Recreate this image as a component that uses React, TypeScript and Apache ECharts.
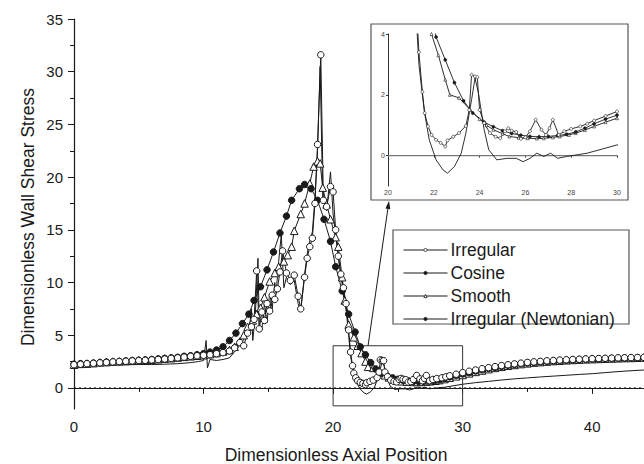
import React, { useEffect, useRef } from "react";
import * as echarts from "echarts";

// ---------- data ----------
const irregular: [number, number][] = [
  [0, 2.2], [0.5, 2.25], [1, 2.3], [1.5, 2.33], [2, 2.38], [2.5, 2.42], [3, 2.47], [3.5, 2.5], [4, 2.53], [4.5, 2.56],
  [5, 2.6], [5.5, 2.62], [6, 2.66], [6.5, 2.7], [7, 2.74], [7.5, 2.8], [8, 2.85], [8.5, 2.92], [9, 3.0], [9.5, 3.05],
  [10, 3.1], [10.5, 3.15], [11, 3.25], [11.5, 3.35], [12, 3.5], [12.4, 3.8], [12.8, 4.3], [13.1, 4.0], [13.4, 5.2], [13.7, 5.8],
  [13.9, 6.5], [14.1, 11.1], [14.3, 5.6], [14.5, 7.2], [14.7, 6.4], [14.9, 8.0], [15.1, 7.3], [15.3, 8.8], [15.5, 8.4], [15.7, 9.4],
  [15.9, 11.0], [16.1, 13.0], [16.4, 10.9], [16.7, 10.2], [17.0, 10.7], [17.3, 8.7], [17.5, 7.5], [17.8, 10.5], [18.0, 12.3], [18.2, 13.4],
  [18.4, 14.2], [18.6, 17.5], [18.8, 23.1], [19.05, 31.6], [19.25, 17.8], [19.5, 17.2], [19.8, 19.1], [20.0, 18.6], [20.2, 15.0], [20.4, 12.5],
  [20.6, 10.8], [20.8, 9.5], [21.0, 8.0], [21.2, 5.5], [21.35, 3.4], [21.5, 2.1], [21.6, 1.4], [21.75, 0.96], [21.9, 0.68], [22.1, 0.52],
  [22.3, 0.42], [22.5, 0.3], [22.6, 0.5], [22.85, 0.62], [23.1, 0.74], [23.4, 0.98], [23.55, 1.5], [23.65, 2.66], [23.8, 2.6], [23.9, 2.58],
  [24.0, 1.5], [24.2, 1.07], [24.45, 0.74], [24.7, 0.62], [24.9, 0.57], [25.1, 0.8], [25.25, 0.9], [25.4, 0.82], [25.6, 0.78], [25.8, 0.55],
  [26.0, 0.6], [26.2, 0.8], [26.45, 1.18], [26.7, 0.85], [26.9, 0.68], [27.05, 0.9], [27.2, 1.18], [27.45, 0.68], [27.7, 0.8], [28.0, 0.88],
  [28.4, 0.96], [28.7, 1.05], [29.0, 1.15], [29.5, 1.3], [30, 1.45], [30.5, 1.58], [31, 1.7], [31.5, 1.82], [32, 1.92], [32.5, 2.02],
  [33, 2.12], [33.5, 2.2], [34, 2.28], [34.5, 2.35], [35, 2.42], [35.5, 2.47], [36, 2.52], [36.5, 2.57], [37, 2.6], [37.5, 2.64],
  [38, 2.67], [38.5, 2.7], [39, 2.72], [39.5, 2.75], [40, 2.77], [40.5, 2.79], [41, 2.81], [41.5, 2.83], [42, 2.85], [42.5, 2.86],
  [43, 2.88], [43.5, 2.89], [44, 2.9],
];

const cosine: [number, number][] = [
  [0, 2.25], [0.5, 2.3], [1, 2.32], [1.5, 2.35], [2, 2.4], [2.5, 2.45], [3, 2.48], [3.5, 2.5], [4, 2.55], [4.5, 2.6],
  [5, 2.62], [5.5, 2.65], [6, 2.7], [6.5, 2.75], [7, 2.8], [7.5, 2.85], [8, 2.9], [8.5, 3.0], [9, 3.05], [9.5, 3.15],
  [10, 3.25], [10.5, 3.4], [11, 3.6], [11.5, 3.9], [12, 4.5], [12.5, 5.2], [13, 6.1], [13.5, 7.0], [13.9, 8.3], [14.4, 9.6],
  [14.9, 11.2], [15.4, 12.9], [15.9, 14.7], [16.4, 16.3], [16.8, 17.8], [17.4, 18.9], [17.8, 19.3], [18.3, 18.9], [18.8, 17.8], [19.3, 16.0],
  [19.8, 13.9], [20.2, 11.5], [20.7, 9.2], [21.2, 7.0], [21.7, 5.3], [22.1, 3.9], [22.5, 3.15], [22.9, 2.4], [23.3, 1.8], [23.7, 1.4],
  [24.2, 1.1], [24.6, 0.95], [25.0, 0.82], [25.4, 0.73], [25.8, 0.67], [26.2, 0.63], [26.6, 0.62], [27.0, 0.63], [27.4, 0.66], [27.8, 0.7],
  [28.2, 0.78], [28.6, 0.9], [29.0, 1.05], [29.5, 1.2], [30, 1.33], [30.5, 1.45], [31, 1.6], [31.5, 1.72], [32, 1.85], [32.5, 1.95],
  [33, 2.05], [33.5, 2.15], [34, 2.22], [34.5, 2.3], [35, 2.36], [35.5, 2.42], [36, 2.47], [36.5, 2.52], [37, 2.56], [37.5, 2.6],
  [38, 2.63], [38.5, 2.66], [39, 2.69], [39.5, 2.72], [40, 2.74], [40.5, 2.76], [41, 2.78], [41.5, 2.8], [42, 2.82], [42.5, 2.83],
  [43, 2.85], [43.5, 2.86], [44, 2.87],
];

const smooth: [number, number][] = [
  [0, 2.2], [0.5, 2.28], [1, 2.3], [1.5, 2.35], [2, 2.42], [2.5, 2.45], [3, 2.5], [3.5, 2.52], [4, 2.55], [4.5, 2.58],
  [5, 2.62], [5.5, 2.65], [6, 2.68], [6.5, 2.72], [7, 2.78], [7.5, 2.82], [8, 2.88], [8.5, 2.95], [9, 3.0], [9.5, 3.05],
  [10, 3.1], [10.5, 3.2], [11, 3.3], [11.5, 3.45], [12, 3.6], [12.4, 3.9], [12.8, 4.4], [13.1, 5.0], [13.4, 5.8], [13.8, 6.4],
  [14.1, 7.0], [14.4, 7.6], [14.7, 8.6], [15.1, 10.1], [15.5, 10.9], [15.8, 11.5], [16.2, 12.0], [16.5, 12.6], [16.8, 13.4], [17.0, 14.9],
  [17.5, 16.5], [17.8, 17.5], [18.2, 19.4], [18.5, 21.0], [18.8, 21.5], [19.0, 21.3], [19.2, 19.0], [19.5, 17.4], [19.8, 16.0], [20.2, 14.3],
  [20.4, 13.4], [20.7, 10.5], [20.9, 8.3], [21.2, 6.0], [21.6, 4.8], [21.9, 4.0], [22.2, 3.3], [22.5, 2.5], [22.7, 2.0], [23.1, 1.9],
  [23.6, 1.5], [24.0, 1.2], [24.3, 1.0], [24.6, 0.85], [25.0, 0.72], [25.3, 0.63], [25.7, 0.59], [26.1, 0.57], [26.5, 0.56], [26.8, 0.57],
  [27.2, 0.6], [27.5, 0.63], [27.9, 0.68], [28.2, 0.74], [28.6, 0.84], [29, 0.96], [29.5, 1.1], [30, 1.23], [30.5, 1.38], [31, 1.52],
  [31.5, 1.65], [32, 1.78], [32.5, 1.9], [33, 2.0], [33.5, 2.1], [34, 2.18], [34.5, 2.26], [35, 2.33], [35.5, 2.4], [36, 2.45],
  [36.5, 2.5], [37, 2.55], [37.5, 2.58], [38, 2.62], [38.5, 2.65], [39, 2.68], [39.5, 2.71], [40, 2.73], [40.5, 2.75], [41, 2.77],
  [41.5, 2.79], [42, 2.81], [42.5, 2.83], [43, 2.84], [43.5, 2.86], [44, 2.88],
];

const newtonian: [number, number][] = [
  [0, 2.1], [1, 2.15], [2, 2.18], [3, 2.2], [4, 2.2], [5, 2.22], [6, 2.22], [7, 2.25], [8, 2.3], [9, 2.4],
  [9.6, 2.5], [10.0, 2.6], [10.2, 4.5], [10.3, 1.9], [10.5, 2.7], [11, 2.6], [11.5, 2.7], [12, 2.85], [12.5, 3.6], [12.9, 4.2],
  [13.2, 4.8], [13.5, 5.2], [13.7, 7.5], [13.8, 4.5], [14.0, 7.0], [14.2, 12.3], [14.3, 6.0], [14.5, 5.5], [14.7, 8.0], [14.9, 6.2],
  [15.1, 9.0], [15.3, 7.5], [15.5, 10.0], [15.6, 9.0], [15.8, 12.0], [16.0, 14.5], [16.2, 9.5], [16.4, 10.5], [16.7, 9.8], [17.0, 10.2],
  [17.3, 8.0], [17.5, 7.3], [17.8, 10.8], [18.1, 13.5], [18.4, 14.8], [18.6, 18.0], [18.8, 22.5], [19.0, 30.5], [19.2, 18.0], [19.5, 16.8],
  [19.8, 20.5], [20.0, 16.5], [20.2, 14.5], [20.5, 11.5], [20.8, 9.0], [21.0, 7.5], [21.2, 5.0], [21.35, 3.0], [21.46, 2.27], [21.6, 1.4],
  [21.8, 0.52], [22.1, -0.14], [22.4, -0.47], [22.6, -0.58], [22.9, -0.36], [23.2, 0.08], [23.4, 0.74], [23.65, 1.84], [23.8, 2.55], [23.95, 2.05],
  [24.2, 0.85], [24.4, 0.19], [24.75, -0.14], [25.2, -0.09], [25.6, -0.09], [25.9, -0.2], [26.2, -0.09], [26.5, 0.08], [26.8, -0.03], [27.1, 0.08],
  [27.4, -0.09], [27.8, -0.03], [28.7, 0.08], [30, 0.35], [31, 0.5], [32, 0.62], [33, 0.75], [34, 0.86], [35, 0.95], [36, 1.04],
  [37, 1.12], [38, 1.2], [39, 1.28], [40, 1.35], [41, 1.45], [42, 1.55], [43, 1.63], [44, 1.7],
];

const xLabelValues = [0, 10, 20, 30, 40];
const xMinorValues = [5, 15, 25, 35];
const yLabelValues = [0, 5, 10, 15, 20, 25, 30, 35];
const yMinorValues = [2.5, 7.5, 12.5, 17.5, 22.5, 27.5, 32.5];
const insetYLabelValues = [0, 2, 4];
const zoomBox: [number, number][] = [[20, 4], [30, 4], [30, -1.7], [20, -1.7], [20, 4]];
const mainZeroLine: [number, number][] = [[0, 0], [44, 0]];
const insetZeroLine: [number, number][] = [[20, 0], [30, 0]];

const NAMES = ["Irregular", "Cosine", "Smooth", "Irregular (Newtonian)"];

// ---------- styling ----------
const FONT = '"Liberation Sans", Arial, Helvetica, sans-serif';
const INK = "#1a1a1a";
const FRAME = "#555555";

function markerSeries(
  name: string,
  data: [number, number][],
  kind: "open" | "filled" | "tri" | "none",
  inset: boolean
): any {
  const bw = inset ? 0.6 : 1;
  const size = inset ? 3 : kind === "tri" ? 7.5 : 6.5;
  return {
    name,
    type: "line",
    xAxisIndex: inset ? 2 : 0,
    yAxisIndex: inset ? 2 : 0,
    data,
    clip: true,
    symbol: kind === "tri" ? "triangle" : kind === "none" ? "none" : "circle",
    symbolSize: size,
    showSymbol: kind !== "none",
    showAllSymbol: true,
    lineStyle: { color: INK, width: inset ? 0.9 : 1 },
    itemStyle: {
      color: kind === "filled" || kind === "none" ? INK : "#ffffff",
      borderColor: INK,
      borderWidth: bw,
    },
    emphasis: { disabled: true },
    silent: true,
    z: kind === "none" ? 2 : 3,
  };
}

function plain(data: [number, number][], axis: number, color: string, type: any, width: number): any {
  return {
    type: "line",
    xAxisIndex: axis,
    yAxisIndex: axis,
    data,
    symbol: "none",
    silent: true,
    lineStyle: { color, width, type },
    z: 1,
  };
}

export default function App() {
  const ref = useRef<HTMLDivElement>(null);

  useEffect(() => {
    if (!ref.current) return;
    const chart = echarts.init(ref.current, undefined, { renderer: "svg" });

    const axisLine = { show: true, lineStyle: { color: INK, width: 1.2 } };

    // arrow geometry (annotation)
    const tip = [389, 201];
    const start = [368, 346];
    const dx = tip[0] - start[0];
    const dy = tip[1] - start[1];
    const len = Math.hypot(dx, dy);
    const ux = dx / len, uy = dy / len;
    const bx = tip[0] - 8 * ux, by = tip[1] - 8 * uy;
    const nx = -uy, ny = ux;

    const option: any = {
      animation: false,
      textStyle: { fontFamily: FONT },
      grid: [
        { left: 74, top: 19, width: 572, height: 390 },
        { left: 388, top: 34, width: 229, height: 152 },
      ],
      xAxis: [
        {
          type: "value", gridIndex: 0, min: 0, max: 44,
          axisLine,
          axisTick: { show: true, length: 6, lineStyle: { color: INK }, customValues: xLabelValues },
          axisLabel: { customValues: xLabelValues, fontSize: 15, color: INK, margin: 10, fontFamily: FONT },
          splitLine: { show: false },
        },
        {
          type: "value", gridIndex: 0, min: 0, max: 44, position: "bottom",
          axisLine: { show: false },
          axisTick: { show: true, length: 4, lineStyle: { color: INK }, customValues: xMinorValues },
          axisLabel: { show: false },
          splitLine: { show: false },
        },
        {
          type: "value", gridIndex: 1, min: 20, max: 30, interval: 2,
          axisLine: { show: true, lineStyle: { color: "#333", width: 1 } },
          axisTick: { show: true, length: 2, lineStyle: { color: "#333" } },
          axisLabel: { fontSize: 7, color: "#444", margin: 3, fontFamily: FONT },
          splitLine: { show: false },
        },
      ],
      yAxis: [
        {
          type: "value", gridIndex: 0, min: -2, max: 35, position: "left",
          axisLine,
          axisTick: { show: true, length: 6, lineStyle: { color: INK }, customValues: yLabelValues },
          axisLabel: { customValues: yLabelValues, fontSize: 15, color: INK, margin: 11, fontFamily: FONT },
          splitLine: { show: false },
        },
        {
          type: "value", gridIndex: 0, min: -2, max: 35, position: "left",
          axisLine: { show: false },
          axisTick: { show: true, length: 4, lineStyle: { color: INK }, customValues: yMinorValues },
          axisLabel: { show: false },
          splitLine: { show: false },
        },
        {
          type: "value", gridIndex: 1, min: -1, max: 4, position: "left",
          axisLine: { show: true, lineStyle: { color: "#333", width: 1 } },
          axisTick: { show: true, length: 2, lineStyle: { color: "#333" }, customValues: insetYLabelValues },
          axisLabel: { customValues: insetYLabelValues, fontSize: 7, color: "#444", margin: 3, fontFamily: FONT },
          splitLine: { show: false },
        },
      ],
      legend: {
        data: NAMES,
        orient: "vertical",
        left: 403,
        top: 241,
        padding: 0,
        itemWidth: 44,
        itemHeight: 4,
        itemGap: 5,
        selectedMode: false,
        lineStyle: { width: 1, color: INK },
        itemStyle: { borderWidth: 0.8 },
        textStyle: { fontSize: 17.5, lineHeight: 16, color: INK, fontFamily: FONT, padding: [0, 0, 0, -2] },
      },
      series: [
        plain(mainZeroLine, 0, INK, [2, 3], 1),
        plain(zoomBox, 0, "#333", "solid", 1),
        plain(insetZeroLine, 2, "#777", "solid", 1.2),
        markerSeries(NAMES[3], newtonian, "none", false),
        markerSeries(NAMES[2], smooth, "tri", false),
        markerSeries(NAMES[1], cosine, "filled", false),
        markerSeries(NAMES[0], irregular, "open", false),
        markerSeries(NAMES[3], newtonian, "none", true),
        markerSeries(NAMES[2], smooth, "tri", true),
        markerSeries(NAMES[1], cosine, "filled", true),
        markerSeries(NAMES[0], irregular, "open", true),
      ],
      graphic: [
        {
          type: "rect", z: -10,
          shape: { x: 371, y: 24, width: 257, height: 176 },
          style: { fill: "#ffffff", stroke: FRAME, lineWidth: 1.2 },
        },
        {
          type: "rect", z: -10,
          shape: { x: 393, y: 230, width: 236, height: 94 },
          style: { fill: "#ffffff", stroke: FRAME, lineWidth: 1.2 },
        },
        {
          type: "line",
          shape: { x1: start[0], y1: start[1], x2: bx, y2: by },
          style: { stroke: INK, lineWidth: 1 },
        },
        {
          type: "polygon",
          shape: {
            points: [
              [tip[0], tip[1]],
              [bx + 2.5 * nx, by + 2.5 * ny],
              [bx - 2.5 * nx, by - 2.5 * ny],
            ],
          },
          style: { fill: INK },
        },
        {
          type: "text",
          x: 28, y: 217, rotation: Math.PI / 2,
          style: {
            text: "Dimensionless Wall Shear Stress",
            x: 0, y: 0, align: "center", verticalAlign: "middle",
            fontSize: 17.5, fontFamily: FONT, fill: INK,
          },
        },
        {
          type: "text",
          x: 336, y: 455,
          style: {
            text: "Dimensionless Axial Position",
            x: 0, y: 0, align: "center", verticalAlign: "middle",
            fontSize: 17.5, fontFamily: FONT, fill: INK,
          },
        },
      ],
    };

    chart.setOption(option);
    return () => chart.dispose();
  }, []);

  return (
    <div
      ref={ref}
      style={{ position: "absolute", left: 0, top: 0, width: 644, height: 464, background: "#fff" }}
    />
  );
}
